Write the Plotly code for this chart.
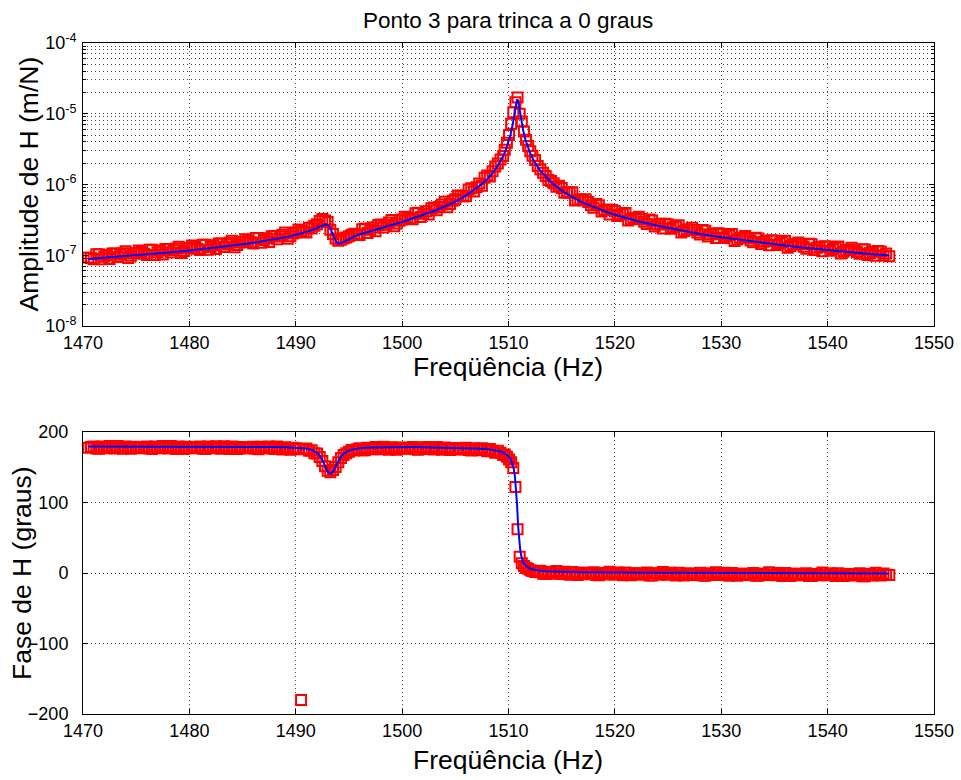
import plotly.graph_objects as go

# ---------------------------------------------------------------------------
# Measured FRF (red squares), split by frequency band.
# frequency [Hz], |H| [x1e-7 m/N], phase [deg]
# ---------------------------------------------------------------------------
freq_low = [
    1470.5, 1470.75, 1471.0, 1471.25, 1471.5, 1471.75, 1472.0, 1472.25,
    1472.5, 1472.75, 1473.0, 1473.25, 1473.5, 1473.75, 1474.0, 1474.25,
    1474.5, 1474.75, 1475.0, 1475.25, 1475.5, 1475.75, 1476.0, 1476.25,
    1476.5, 1476.75, 1477.0, 1477.25, 1477.5, 1477.75, 1478.0, 1478.25,
    1478.5, 1478.75, 1479.0, 1479.25, 1479.5, 1479.75, 1480.0, 1480.25,
    1480.5, 1480.75, 1481.0, 1481.25, 1481.5, 1481.75, 1482.0, 1482.25,
    1482.5, 1482.75, 1483.0, 1483.25, 1483.5, 1483.75, 1484.0, 1484.25,
    1484.5, 1484.75, 1485.0, 1485.25, 1485.5, 1485.75, 1486.0, 1486.25,
    1486.5, 1486.75, 1487.0, 1487.25, 1487.5, 1487.75, 1488.0, 1488.25,
    1488.5, 1488.75, 1489.0, 1489.25, 1489.5, 1489.75, 1490.0, 1490.25,
    1490.5, 1490.75, 1491.0,
]
amp_low = [
    0.93, 0.916, 0.876, 1.035, 1.033, 0.876, 0.955, 1.007,
    0.884, 1.059, 1.056, 0.941, 1.013, 1.069, 1.135, 0.918,
    0.984, 1.061, 1.079, 1.167, 1.115, 1.053, 1.009, 1.194,
    1.192, 1.012, 1.104, 1.166, 1.024, 1.228, 1.226, 1.093,
    1.18, 1.245, 1.323, 1.072, 1.15, 1.241, 1.264, 1.369,
    1.309, 1.236, 1.186, 1.405, 1.408, 1.197, 1.31, 1.386,
    1.221, 1.466, 1.467, 1.312, 1.42, 1.504, 1.603, 1.302,
    1.40, 1.514, 1.544, 1.679, 1.612, 1.526, 1.47, 1.748,
    1.756, 1.498, 1.643, 1.744, 1.544, 1.861, 1.87, 1.683,
    1.834, 1.954, 2.094, 1.716, 1.86, 2.033, 2.095, 2.303,
    2.233, 2.148, 2.097,
]
phase_low = [
    177.6, 178.6, 179.6, 176.6, 176.1, 179.6, 178.6, 177.1,
    180.1, 178.1, 176.6, 180.1, 178.1, 176.1, 179.6, 177.6,
    176.1, 179.1, 178.6, 177.1, 177.5, 178.5, 179.5, 176.5,
    176.0, 179.5, 178.5, 177.0, 180.0, 178.0, 176.5, 180.0,
    178.0, 176.0, 179.5, 177.5, 176.0, 179.0, 178.5, 177.0,
    177.5, 178.5, 179.4, 176.4, 175.9, 179.4, 178.4, 176.9,
    179.9, 177.9, 176.3, 179.8, 177.8, 175.8, 179.3, 177.3,
    175.8, 178.7, 178.2, 176.7, 177.2, 178.1, 179.1, 176.1,
    175.5, 179.0, 178.0, 176.5, 179.4, 177.4, 175.8, 179.3,
    177.2, 175.2, 178.5, 176.4, 174.7, 177.6, 176.9, 175.4,
    -180.0, 175.9, 176.5,
]

# second (weak) mode around 1493 Hz
freq_mode2 = [
    1491.25, 1491.5, 1491.75, 1492.0, 1492.25, 1492.5, 1492.75, 1493.0,
    1493.25, 1493.5, 1493.75, 1494.0, 1494.25, 1494.5, 1494.75, 1495.0,
    1495.25,
]
amp_mode2 = [
    2.45, 2.38, 2.62, 2.75, 3.05, 3.25, 3.10, 2.95,
    2.30, 2.00, 1.72, 1.60, 1.65, 1.72, 1.78, 1.85,
    1.95,
]
phase_mode2 = [
    173.5, 174.1, 170.0, 169.4, 164.5, 159.0, 151.5, 145.0,
    143.0, 146.0, 150.5, 157.0, 163.0, 167.5, 170.0, 172.0,
    174.5,
]

freq_mid = [
    1495.5, 1495.75, 1496.0, 1496.25, 1496.5, 1496.75, 1497.0, 1497.25,
    1497.5, 1497.75, 1498.0, 1498.25, 1498.5, 1498.75, 1499.0, 1499.25,
    1499.5, 1499.75, 1500.0, 1500.25, 1500.5, 1500.75, 1501.0, 1501.25,
    1501.5, 1501.75, 1502.0, 1502.25, 1502.5, 1502.75, 1503.0, 1503.25,
    1503.5, 1503.75, 1504.0, 1504.25, 1504.5, 1504.75, 1505.0, 1505.25,
    1505.5, 1505.75, 1506.0, 1506.25, 1506.5, 1506.75, 1507.0, 1507.25,
    1507.5, 1507.75, 1508.0, 1508.25, 1508.5, 1508.75, 1509.0, 1509.25,
    1509.5,
]
amp_mid = [
    2.02, 1.962, 1.93, 2.335, 2.38, 2.059, 2.29, 2.458,
    2.19, 2.678, 2.72, 2.465, 2.70, 2.903, 3.14, 2.58,
    2.81, 3.082, 3.19, 3.515, 3.43, 3.306, 3.23, 3.91,
    3.99, 3.466, 3.87, 4.186, 3.76, 4.622, 4.74, 4.336,
    4.81, 5.228, 5.71, 4.775, 5.28, 5.896, 6.21, 6.983,
    6.93, 6.819, 6.83, 8.476, 8.88, 7.949, 9.16, 10.30,
    9.64, 12.43, 13.4, 12.97, 15.4, 17.98, 19.8, 22.5,
    25.2,
]
phase_mid = [
    173.7, 175.4, 176.9, 174.2, 174.0, 177.7, 177.0, 175.6,
    178.7, 176.8, 175.4, 179.0, 177.0, 175.0, 178.5, 176.5,
    175.0, 178.0, 177.6, 176.1, 176.6, 177.6, 178.6, 175.6,
    175.0, 178.5, 177.5, 176.0, 178.9, 176.9, 175.3, 178.8,
    176.7, 174.7, 178.1, 176.0, 174.4, 177.4, 176.8, 175.2,
    175.7, 176.6, 177.5, 174.4, 173.7, 177.0, 175.8, 174.1,
    176.9, 174.6, 172.8, 175.8, 173.3, 170.7, 173.5, 170.4,
    167.5,
]

# main resonance around 1511 Hz
freq_peak = [
    1509.65, 1509.85, 1510.05, 1510.25, 1510.45, 1510.65, 1510.85,
    1511.05, 1511.25, 1511.45, 1511.65, 1511.85, 1512.05, 1512.25,
]
amp_peak = [
    31.0, 39.0, 50.0, 72.0, 105.0, 145.0, 170.0,
    100.0, 78.0, 56.0, 43.0, 35.0, 29.5, 25.5,
]
phase_peak = [
    168.0, 165.0, 161.0, 157.0, 149.0, 122.0, 62.0,
    23.0, 14.0, 10.0, 7.0, 6.0, 4.0, 3.0,
]

freq_high = [
    1512.5, 1512.75, 1513.0, 1513.25, 1513.5, 1513.75, 1514.0, 1514.25,
    1514.5, 1514.75, 1515.0, 1515.25, 1515.5, 1515.75, 1516.0, 1516.25,
    1516.5, 1516.75, 1517.0, 1517.25, 1517.5, 1517.75, 1518.0, 1518.25,
    1518.5, 1518.75, 1519.0, 1519.25, 1519.5, 1519.75, 1520.0, 1520.25,
    1520.5, 1520.75, 1521.0, 1521.25, 1521.5, 1521.75, 1522.0, 1522.25,
    1522.5, 1522.75, 1523.0, 1523.25, 1523.5, 1523.75, 1524.0, 1524.25,
    1524.5, 1524.75, 1525.0, 1525.25, 1525.5, 1525.75, 1526.0, 1526.25,
    1526.5, 1526.75, 1527.0, 1527.25, 1527.5, 1527.75, 1528.0, 1528.25,
    1528.5, 1528.75, 1529.0, 1529.25, 1529.5, 1529.75, 1530.0, 1530.25,
    1530.5, 1530.75, 1531.0, 1531.25, 1531.5, 1531.75, 1532.0, 1532.25,
    1532.5, 1532.75, 1533.0, 1533.25, 1533.5, 1533.75, 1534.0, 1534.25,
    1534.5, 1534.75, 1535.0, 1535.25, 1535.5, 1535.75, 1536.0, 1536.25,
    1536.5, 1536.75, 1537.0, 1537.25, 1537.5, 1537.75, 1538.0, 1538.25,
    1538.5, 1538.75, 1539.0, 1539.25, 1539.5, 1539.75, 1540.0, 1540.25,
    1540.5, 1540.75, 1541.0, 1541.25, 1541.5, 1541.75, 1542.0, 1542.25,
    1542.5, 1542.75, 1543.0, 1543.25, 1543.5, 1543.75, 1544.0, 1544.25,
    1544.5, 1544.75, 1545.0, 1545.25, 1545.5, 1545.8,
]
amp_high = [
    22.2, 18.2, 16.4, 14.6, 13.2, 11.6, 11.2, 10.4,
    9.3, 9.6, 8.9, 7.65, 7.75, 7.71, 7.75, 5.93,
    6.03, 6.18, 5.99, 6.18, 5.64, 5.10, 4.68, 5.31,
    5.10, 4.16, 4.37, 4.45, 3.76, 4.35, 4.19, 3.60,
    3.76, 3.84, 3.95, 3.10, 3.22, 3.37, 3.33, 3.49,
    3.25, 2.98, 2.77, 3.19, 3.10, 2.55, 2.71, 2.79,
    2.39, 2.79, 2.72, 2.37, 2.49, 2.56, 2.66, 2.10,
    2.20, 2.31, 2.30, 2.44, 2.28, 2.09, 1.96, 2.27,
    2.22, 1.84, 1.97, 2.03, 1.75, 2.05, 2.00, 1.75,
    1.86, 1.92, 2.00, 1.59, 1.67, 1.77, 1.76, 1.87,
    1.75, 1.62, 1.53, 1.77, 1.73, 1.44, 1.55, 1.60,
    1.39, 1.63, 1.60, 1.40, 1.48, 1.54, 1.60, 1.28,
    1.35, 1.43, 1.43, 1.52, 1.43, 1.32, 1.24, 1.45,
    1.43, 1.19, 1.28, 1.32, 1.14, 1.34, 1.32, 1.16,
    1.23, 1.28, 1.33, 1.06, 1.12, 1.19, 1.20, 1.28,
    1.20, 1.11, 1.05, 1.22, 1.21, 1.01, 1.08, 1.13,
    0.98, 1.15, 1.13, 0.99, 1.06, 0.97,
]
phase_high = [
    1.3, 1.7, 3.2, -1.1, -1.4, 1.4, 1.2, -0.95,
    2.9, -0.2, -1.3, 1.6, -0.45, -2.5, 1.4, -1.65,
    -2.7, 0.25, 0.2, -0.85, -1.9, -0.95, 1.0, -3.0,
    -3.05, -0.1, -0.1, -2.1, 1.85, -1.2, -2.2, 0.8,
    -1.25, -3.3, 0.7, -2.3, -3.35, -0.4, -0.4, -1.4,
    -2.45, -1.45, 0.55, -3.5, -3.5, -0.5, -0.5, -2.5,
    1.5, -1.5, -2.55, 0.45, -1.6, -3.6, 0.4, -2.6,
    -3.6, -0.65, -0.65, -1.65, -2.7, -1.7, 0.3, -3.7,
    -3.75, -0.75, -0.75, -2.75, 1.2, -1.8, -2.8, 0.2,
    -1.85, -3.85, 0.15, -2.85, -3.9, -0.9, -0.9, -1.9,
    -2.95, -1.95, 0.05, -3.95, -4.0, -1.0, -1.0, -3.0,
    1.0, -2.05, -3.05, -0.05, -2.1, -4.1, -0.1, -3.1,
    -4.15, -1.15, -1.15, -2.15, -3.2, -2.2, -0.2, -4.2,
    -4.2, -1.25, -1.25, -3.25, 0.7, -2.3, -3.3, -0.3,
    -2.35, -4.35, -0.35, -3.35, -4.4, -1.4, -1.4, -2.4,
    -3.45, -2.45, -0.45, -4.45, -4.5, -1.5, -1.5, -3.5,
    0.5, -2.55, -3.55, -0.55, -2.6, -3.0,
]

# ---------------------------------------------------------------------------
# Fitted FRF (blue line)
# ---------------------------------------------------------------------------
fit_freq = [
    1470.5, 1472.0, 1474.0, 1476.0, 1478.0, 1480.0, 1482.0, 1484.0, 1485.0, 1486.0,
    1487.0, 1488.0, 1489.0, 1489.5, 1490.0, 1490.5, 1491.0, 1491.5, 1492.0, 1492.25,
    1492.5, 1492.75, 1493.0, 1493.25, 1493.5, 1493.75, 1494.0, 1494.25, 1494.5, 1495.0,
    1495.5, 1496.0, 1497.0, 1498.0, 1499.0, 1500.0, 1501.0, 1502.0, 1503.0, 1504.0,
    1505.0, 1506.0, 1507.0, 1507.5, 1508.0, 1508.5, 1509.0, 1509.25, 1509.5, 1509.75,
    1510.0, 1510.2, 1510.4, 1510.5, 1510.6, 1510.7, 1510.8, 1510.9, 1511.0, 1511.1,
    1511.2, 1511.4, 1511.6, 1511.8, 1512.0, 1512.25, 1512.5, 1513.0, 1513.5, 1514.0,
    1515.0, 1516.0, 1517.0, 1518.0, 1519.0, 1520.0, 1522.0, 1524.0, 1526.0, 1528.0,
    1530.0, 1532.0, 1534.0, 1536.0, 1538.0, 1540.0, 1542.0, 1544.0, 1545.8,
]
fit_amp = [
    0.883, 0.918, 0.97, 1.03, 1.095, 1.17, 1.26, 1.37, 1.43, 1.50,
    1.58, 1.67, 1.79, 1.86, 1.94, 2.03, 2.14, 2.27, 2.44, 2.54,
    2.65, 2.72, 2.68, 2.40, 1.94, 1.59, 1.47, 1.48, 1.54, 1.70,
    1.84, 1.97, 2.20, 2.43, 2.68, 2.95, 3.30, 3.72, 4.23, 4.88,
    5.75, 6.97, 8.81, 10.15, 11.95, 14.5, 18.4, 21.3, 25.2, 30.9,
    39.7, 51.2, 71.0, 87.0, 109.0, 138.0, 160.0, 154.0, 126.0, 99.4,
    80.0, 56.0, 42.6, 34.3, 28.6, 23.7, 20.2, 15.65, 12.75, 10.75,
    8.19, 6.62, 5.55, 4.78, 4.20, 3.74, 3.08, 2.61, 2.27, 2.00,
    1.79, 1.63, 1.49, 1.37, 1.27, 1.18, 1.11, 1.04, 0.99,
]
fit_phase = [
    179.6, 179.6, 179.6, 179.5, 179.5, 179.5, 179.4, 179.3, 179.2, 179.1,
    179.0, 178.8, 178.5, 178.2, 177.9, 177.4, 176.5, 174.5, 170.5, 166.5,
    160.5, 152.0, 144.0, 140.5, 143.5, 151.0, 159.0, 165.0, 169.5, 173.5,
    175.7, 176.9, 178.0, 178.4, 178.5, 178.6, 178.6, 178.5, 178.3, 178.1,
    177.8, 177.5, 176.8, 176.4, 175.8, 174.8, 173.5, 172.4, 171.0, 169.0,
    165.8, 161.6, 154.0, 147.5, 137.6, 121.8, 98.0, 68.0, 46.0, 33.0,
    24.0, 15.0, 10.5, 8.0, 6.5, 5.2, 4.3, 3.2, 2.6, 2.2,
    1.7, 1.4, 1.2, 1.0, 0.9, 0.8, 0.6, 0.5, 0.4, 0.3,
    0.2, 0.1, 0.0, -0.1, -0.2, -0.3, -0.4, -0.5, -0.6,
]

AMP_UNIT = 1e-7  # amplitudes above are listed in units of 1e-7 m/N

bands = [
    (freq_low, amp_low, phase_low),
    (freq_mode2, amp_mode2, phase_mode2),
    (freq_mid, amp_mid, phase_mid),
    (freq_peak, amp_peak, phase_peak),
    (freq_high, amp_high, phase_high),
]
for f, a, p in bands:
    assert len(f) == len(a) == len(p), (f[0], len(f), len(a), len(p))
assert len(fit_freq) == len(fit_amp) == len(fit_phase)

data_freq = [v for f, _, _ in bands for v in f]
data_amp = [v * AMP_UNIT for _, a, _ in bands for v in a]
data_phase = [v for _, _, p in bands for v in p]
fit_amp_si = [v * AMP_UNIT for v in fit_amp]

# ---------------------------------------------------------------------------
# Figure
# ---------------------------------------------------------------------------
FONT = "Liberation Sans, Arial, Helvetica, sans-serif"
W, H = 961, 780
GRID = dict(showgrid=True, gridcolor="#4a4a4a", gridwidth=1, griddash="1px,3px")

# plot-area boxes in pixels
X0, X1 = 83, 934
TOP_Y0, TOP_Y1 = 43, 326
BOT_Y0, BOT_Y1 = 432, 714


def ydom(top, bottom):
    return [(H - bottom) / H, (H - top) / H]


def px(x):
    return x / W


def py(y):
    return 1 - y / H


xdom = [px(X0), px(X1)]

marker_style = dict(symbol="square-open", size=10, color="#ff0000",
                    line=dict(width=2, color="#ff0000"))
line_style = dict(color="#0000ff", width=2)

fig = go.Figure()
fig.add_trace(go.Scatter(x=data_freq, y=data_amp, mode="markers",
                         xaxis="x", yaxis="y", marker=marker_style,
                         showlegend=False))
fig.add_trace(go.Scatter(x=fit_freq, y=fit_amp_si, mode="lines",
                         xaxis="x", yaxis="y", line=line_style,
                         showlegend=False))
fig.add_trace(go.Scatter(x=data_freq, y=data_phase, mode="markers",
                         xaxis="x2", yaxis="y2", marker=marker_style,
                         showlegend=False))
fig.add_trace(go.Scatter(x=fit_freq, y=fit_phase, mode="lines",
                         xaxis="x2", yaxis="y2", line=line_style,
                         showlegend=False))

decades = [1e-8, 1e-7, 1e-6, 1e-5, 1e-4]
decade_text = ["10<sup>-8</sup>", "10<sup>-7</sup>", "10<sup>-6</sup>",
               "10<sup>-5</sup>", "10<sup>-4</sup>"]
minor_vals = [k * d for d in decades[:-1] for k in range(2, 10)]

tick_font = dict(family=FONT, size=18, color="black")
label_font = dict(family=FONT, size=26.5, color="black")

frame = dict(ticks="inside", ticklen=5, tickcolor="black", showline=True,
             linecolor="black", linewidth=1, mirror="ticks", zeroline=False,
             tickfont=tick_font, automargin=False)

common_x = dict(range=[1470, 1550], dtick=10, tick0=1470, **frame, **GRID)

fig.update_layout(
    width=W, height=H,
    margin=dict(l=0, r=0, t=0, b=0),
    paper_bgcolor="white", plot_bgcolor="white",
    font=dict(family=FONT, color="black"),
    xaxis=dict(domain=xdom, anchor="y", **common_x),
    yaxis=dict(domain=ydom(TOP_Y0, TOP_Y1), anchor="x", type="log",
               range=[-8, -4], tickvals=decades, ticktext=decade_text,
               ticklabelstandoff=2,
               minor=dict(tickvals=minor_vals, ticks="inside", ticklen=3,
                          tickcolor="black", **GRID),
               **frame, **GRID),
    xaxis2=dict(domain=xdom, anchor="y2", **common_x),
    yaxis2=dict(domain=ydom(BOT_Y0, BOT_Y1), anchor="x2",
                range=[-200, 200], dtick=100, tick0=-200,
                ticklabelstandoff=10, **frame, **GRID),
)

annotations = [
    dict(text="Ponto 3 para trinca a 0 graus", x=px((X0 + X1) / 2), y=py(20),
         font=dict(family=FONT, size=22.5, color="black")),
    dict(text="Freqüência (Hz)", x=px((X0 + X1) / 2), y=py(367), font=label_font),
    dict(text="Freqüência (Hz)", x=px((X0 + X1) / 2), y=py(760), font=label_font),
    dict(text="Amplitude de H (m/N)", x=px(28), y=py((TOP_Y0 + TOP_Y1) / 2),
         textangle=-90, font=label_font),
    dict(text="Fase de H (graus)", x=px(22), y=py((BOT_Y0 + BOT_Y1) / 2),
         textangle=-90, font=label_font),
]
for a in annotations:
    a.update(xref="paper", yref="paper", xanchor="center", yanchor="middle",
             showarrow=False)
fig.update_layout(annotations=annotations)

fig.write_html("out.html")
